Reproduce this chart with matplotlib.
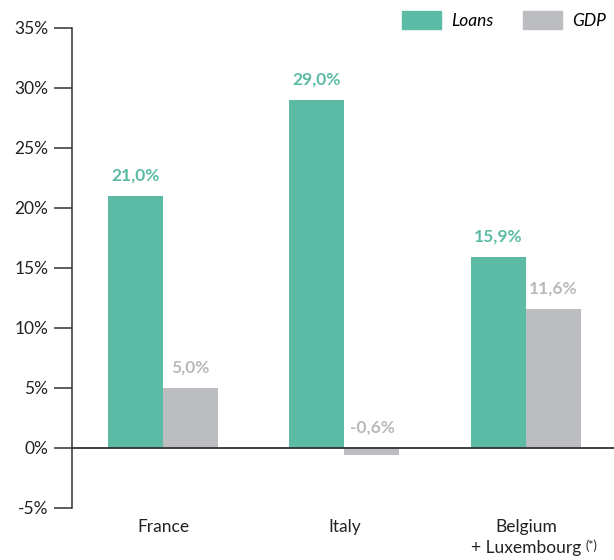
import matplotlib
matplotlib.use("Agg")
import matplotlib.pyplot as plt
import matplotlib.patches as mpatches
import matplotlib.transforms as mtransforms
import numpy as np

categories = ["France", "Italy", "Belgium\n+ Luxembourg"]
loans = [21.0, 29.0, 15.9]
gdp = [5.0, -0.6, 11.6]
loan_labels = ["21,0%", "29,0%", "15,9%"]
gdp_labels = ["5,0%", "-0,6%", "11,6%"]
yticks = [-5, 0, 5, 10, 15, 20, 25, 30, 35]

green = "#5bbba5"
grey = "#bcbdc0"
grey_txt = "#b8b9bc"
dark = "#333333"

plt.rcParams['font.family'] = ['Lato', 'DejaVu Sans']

fig = plt.figure(figsize=(6.14, 5.6), dpi=100)
ax = fig.add_axes([0.1173, 0.0929, 0.8827, 0.8571])

x = np.arange(len(categories))
w = 0.303
ax.bar(x - w / 2, loans, w, color=green)
ax.bar(x + w / 2, gdp, w, color=grey)

for i in range(len(categories)):
    ax.annotate(loan_labels[i], xy=(x[i] - w / 2, max(loans[i], 0)),
                xytext=(0, 9), textcoords="offset points", ha="center", va="bottom",
                color=green, fontsize=12.5, fontweight="bold")
    ax.annotate(gdp_labels[i], xy=(x[i] + w / 2, max(gdp[i], 0)),
                xytext=(0, 9), textcoords="offset points", ha="center", va="bottom",
                color=grey_txt, fontsize=12.5, fontweight="bold")

ax.axhline(0, color=dark, lw=1.3, zorder=3)

ax.set_ylim(-5, 35)
ax.set_xlim(-0.501, 2.485)
ax.set_yticks(yticks)
ax.set_yticklabels([f"{t}%" for t in yticks])
ax.tick_params(axis="y", length=13, width=1.1, color=dark, pad=4, labelsize=12.5, labelcolor="#222222")
ax.set_xticks(x)
ax.set_xticklabels(categories, fontsize=12.5, color="#222222", linespacing=1.35)
ax.tick_params(axis="x", length=0, pad=8)

for s in ["top", "right", "bottom"]:
    ax.spines[s].set_visible(False)
ax.spines["left"].set_color(dark)
ax.spines["left"].set_linewidth(1.1)

# superscript asterisk next to "+ Luxembourg"
trans = mtransforms.blended_transform_factory(ax.transData, ax.transAxes)
ax.annotate("(*)", xy=(2, 0), xycoords=trans, xytext=(43, -27), textcoords="offset points",
            fontsize=9, color="#222222", ha="left", va="center", annotation_clip=False)

handles = [mpatches.Patch(color=green, label="Loans"),
           mpatches.Patch(color=grey, label="GDP")]
fig.legend(handles=handles, loc="upper right", bbox_to_anchor=(1.012, 1.009), ncol=2,
           frameon=False, prop={'style': 'italic', 'size': 12.5},
           handlelength=2.24, handleheight=1.27, handletextpad=0.57, columnspacing=1.7,
           borderpad=0.4)

fig.savefig("out.png", dpi=100)
